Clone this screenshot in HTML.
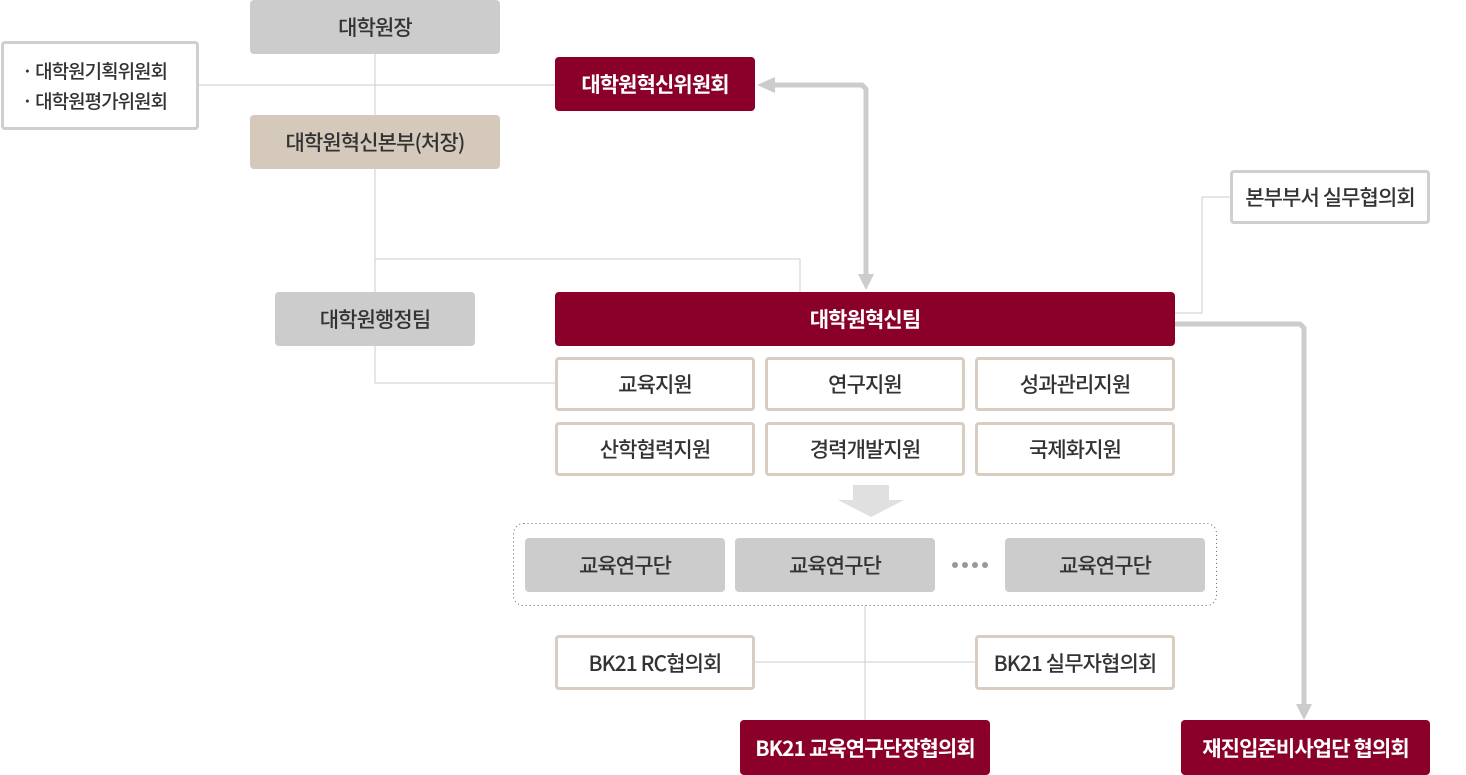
<!DOCTYPE html>
<html><head><meta charset="utf-8"><style>
html,body{margin:0;padding:0;background:#fff;}
body{width:1466px;height:775px;position:relative;overflow:hidden;font-family:"Noto Sans CJK KR","Liberation Sans",sans-serif;}
.b{position:absolute;box-sizing:border-box;display:flex;align-items:center;justify-content:center;border-radius:4px;font-size:21px;color:#333;letter-spacing:-0.9px;font-weight:500;}
.g{background:#cccccc;}
.m{background:#8a0029;color:#fff;font-weight:bold;}
.bg{background:#d5c9bb;}
.w{background:#fff;border:3px solid #d8cdc0;}
.wg{background:#fff;border:3px solid #cfcfcf;}
svg{position:absolute;left:0;top:0;}
</style></head><body>
<svg width="1466" height="775">
<g stroke="#cccccc" stroke-width="1" fill="none">
<line x1="375" y1="54" x2="375" y2="115"/>
<line x1="198" y1="85" x2="555" y2="85"/>
<polyline points="375,169 375,383 555,383"/>
<polyline points="375,259 800,259 800,292"/>
<polyline points="1174,313 1202,313 1202,197 1230,197"/>
<line x1="865" y1="605" x2="865" y2="720"/>
<line x1="754" y1="662" x2="975" y2="662"/>
</g>
<g stroke="#cccccc" stroke-width="5" fill="none" stroke-linejoin="round">
<polyline points="770,85 862,85 866,89 866,276"/>
<polyline points="1174,324 1300,324 1304,328 1304,706"/>
</g>
<g fill="#cccccc">
<polygon points="757,85 775,77 775,93"/>
<polygon points="866,290 858,274 874,274"/>
<polygon points="1304,720 1296,704 1312,704"/>
</g>
<g fill="#e0e0e0">
<rect x="853" y="485" width="36" height="16"/>
<polygon points="838,500 904,500 871,517"/>
</g>
<rect x="513.5" y="523.5" width="703" height="82" rx="10" fill="none" stroke="#666" stroke-width="1" stroke-dasharray="1,3"/>
<g fill="#999"><circle cx="955" cy="565" r="3"/><circle cx="965" cy="565" r="3"/><circle cx="975" cy="565" r="3"/><circle cx="985" cy="565" r="3"/></g>
</svg>
<div class="b g" style="left:250px;top:0;width:250px;height:54px;">대학원장</div>
<div class="b wg" style="left:1px;top:41px;width:198px;height:89px;flex-direction:column;align-items:flex-start;padding-left:18px;font-size:19px;line-height:30px;letter-spacing:-1px;"><div>· 대학원기획위원회</div><div>· 대학원평가위원회</div></div>
<div class="b m" style="left:555px;top:57px;width:200px;height:54px;">대학원혁신위원회</div>
<div class="b bg" style="left:250px;top:115px;width:250px;height:54px;">대학원혁신본부(처장)</div>
<div class="b wg" style="left:1230px;top:170px;width:200px;height:54px;">본부부서 실무협의회</div>
<div class="b g" style="left:275px;top:292px;width:200px;height:54px;">대학원행정팀</div>
<div class="b m" style="left:555px;top:292px;width:620px;height:54px;">대학원혁신팀</div>
<div class="b w" style="left:555px;top:357px;width:200px;height:54px;">교육지원</div>
<div class="b w" style="left:765px;top:357px;width:200px;height:54px;">연구지원</div>
<div class="b w" style="left:975px;top:357px;width:200px;height:54px;">성과관리지원</div>
<div class="b w" style="left:555px;top:422px;width:200px;height:54px;">산학협력지원</div>
<div class="b w" style="left:765px;top:422px;width:200px;height:54px;">경력개발지원</div>
<div class="b w" style="left:975px;top:422px;width:200px;height:54px;">국제화지원</div>
<div class="b g" style="left:525px;top:538px;width:200px;height:54px;">교육연구단</div>
<div class="b g" style="left:735px;top:538px;width:200px;height:54px;">교육연구단</div>
<div class="b g" style="left:1005px;top:538px;width:200px;height:54px;">교육연구단</div>
<div class="b w" style="left:555px;top:635px;width:200px;height:55px;">BK21 RC협의회</div>
<div class="b w" style="left:975px;top:635px;width:200px;height:55px;">BK21 실무자협의회</div>
<div class="b m" style="left:740px;top:720px;width:250px;height:55px;">BK21 교육연구단장협의회</div>
<div class="b m" style="left:1181px;top:720px;width:249px;height:55px;">재진입준비사업단 협의회</div>
</body></html>
